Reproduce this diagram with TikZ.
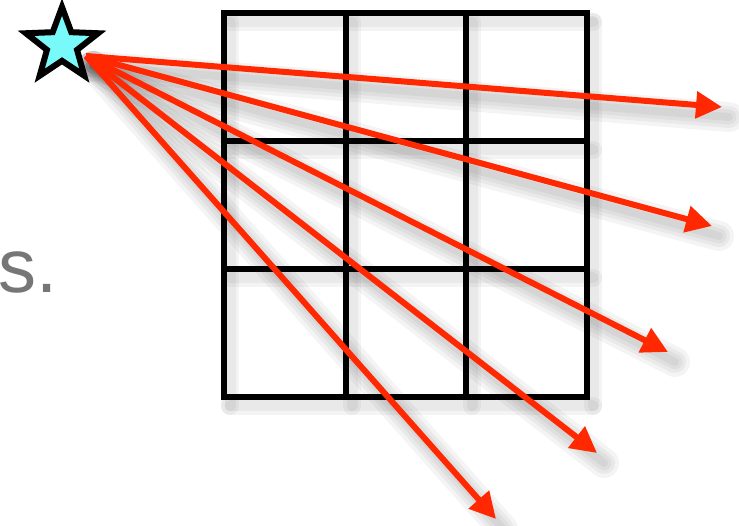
\documentclass[tikz,border=0pt]{standalone}
\usepackage{fontspec}
\setmainfont{Liberation Sans}
\usetikzlibrary{positioning, shapes.geometric, arrows.meta}

\definecolor{raycolor}{RGB}{255,40,0}
\definecolor{starfill}{RGB}{120,250,250}
\definecolor{textgrey}{RGB}{118,118,118}

\begin{document}
\begin{tikzpicture}[
    x=1pt, y=-1pt,
    ray/.style={
        draw=raycolor,
        line width=6pt,
        -{Triangle[length=26pt, width=26pt]}
    },
    gridline/.style={
        draw=black,
        line width=6pt,
        line cap=rect
    },
    shadowline/.style={
        draw=black,
        draw opacity=0.045,
        line cap=round
    },
    source/.style={
        star,
        star points=5,
        star point ratio=2.4,
        draw=black,
        line width=6pt,
        fill=starfill,
        minimum size=76pt,
        inner sep=0pt
    }
]
\useasboundingbox (0,0) rectangle (739,526);

% Ray end points
\coordinate (src) at (86,56);
\coordinate (tipa) at (722,107);
\coordinate (tipb) at (712,226);
\coordinate (tipc) at (668,352);
\coordinate (tipd) at (597,453);
\coordinate (tipe) at (496,519);

% Soft shadows
\foreach \tip in {tipa,tipb,tipc,tipd,tipe} {
    \foreach \w in {30,22,15,8}
        \draw[shadowline, line width=\w pt]
            ([shift={(7,10)}]src) -- ([shift={(7,10)}]\tip);
}
\foreach \p in {224,346,466,587} {
    \foreach \w in {18,11}
        \draw[shadowline, line width=\w pt] (\p+6,22) -- (\p+6,406);
}
\foreach \p in {13,141,269,397} {
    \foreach \w in {18,11}
        \draw[shadowline, line width=\w pt] (230,\p+9) -- (593,\p+9);
}

% Grid
\foreach \p in {224,346,466,587}
    \draw[gridline] (\p,13) -- (\p,397);
\foreach \p in {13,141,269,397}
    \draw[gridline] (224,\p) -- (587,\p);

% Partial label
\node[anchor=base west, inner sep=0pt, text=textgrey,
      font=\fontsize{76}{80}\selectfont] (label) at (-2,293) {s.};

% Rays
\foreach \tip in {tipa,tipb,tipc,tipd,tipe}
    \draw[ray] (src) -- (\tip);

% Star
\node[source] (star) at (62,45) {};

\end{tikzpicture}
\end{document}
